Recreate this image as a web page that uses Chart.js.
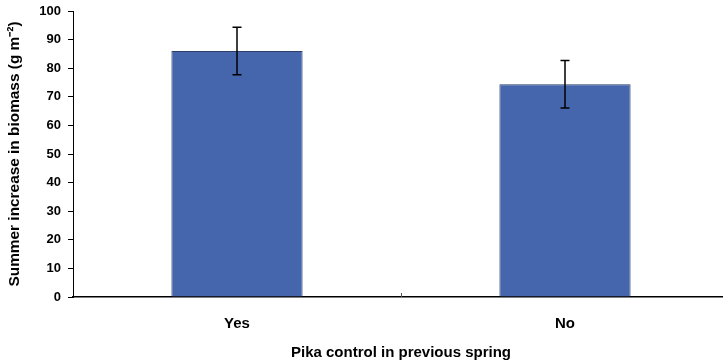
<!DOCTYPE html>
<html>
<head>
<meta charset="utf-8">
<script src="https://cdn.jsdelivr.net/npm/chart.js@4/dist/chart.umd.min.js"></script>
<style>
  html, body { margin: 0; padding: 0; background: #fff; overflow: hidden; }
  #wrap { width: 730px; height: 362px; }
</style>
</head>
<body>
<div id="wrap"><canvas id="c" width="730" height="362"></canvas></div>
<script>
// Biomass gain by prior pika control treatment
const categories = ['Yes', 'No'];
const biomassIncrease = [86.0, 74.4];
const errorHalfWidth = [8.3, 8.3];
const yTicks = [0, 10, 20, 30, 40, 50, 60, 70, 80, 90, 100];

const boldSans = "'Liberation Sans', Arial, sans-serif";

// Error bars with flat caps, plus the divider tick between categories
const errorBarPlugin = {
  id: 'errorBars',
  afterDatasetsDraw(chart) {
    const ctx = chart.ctx;
    const x = chart.scales.x, y = chart.scales.y;
    const meta = chart.getDatasetMeta(0);
    ctx.save();
    ctx.strokeStyle = '#000';
    ctx.lineWidth = 1.5;
    meta.data.forEach((bar, i) => {
      const v = biomassIncrease[i], e = errorHalfWidth[i];
      const yt = y.getPixelForValue(v + e), yb = y.getPixelForValue(v - e);
      const cx = bar.x, cap = 4.5;
      ctx.beginPath();
      ctx.moveTo(cx, yt); ctx.lineTo(cx, yb);
      ctx.moveTo(cx - cap, yt); ctx.lineTo(cx + cap, yt);
      ctx.moveTo(cx - cap, yb); ctx.lineTo(cx + cap, yb);
      ctx.stroke();
    });
    // category divider tick on the x axis
    const mid = (x.getPixelForValue(0) + x.getPixelForValue(1)) / 2;
    const base = y.getPixelForValue(0);
    ctx.strokeStyle = '#555';
    ctx.lineWidth = 1;
    ctx.beginPath();
    ctx.moveTo(Math.round(mid) + 0.5, base);
    ctx.lineTo(Math.round(mid) + 0.5, base - 4);
    ctx.stroke();
    ctx.restore();
  }
};

new Chart(document.getElementById('c'), {
  type: 'bar',
  data: {
    labels: categories,
    datasets: [{
      data: biomassIncrease,
      backgroundColor: '#4565ad',
      borderColor: '#2c3f6a',
      borderWidth: 1,
      categoryPercentage: 0.8,
      barPercentage: 0.5
    }]
  },
  options: {
    responsive: false,
    animation: false,
    devicePixelRatio: 1,
    layout: { padding: { top: 11, right: 1, left: 0, bottom: 0 } },
    plugins: { legend: { display: false }, tooltip: { enabled: false } },
    scales: {
      x: {
        grid: { display: false },
        border: { display: true, color: '#000', width: 1.5 },
        ticks: { color: '#000', padding: 10, font: { family: boldSans, size: 15, weight: 'bold' } },
        title: {
          display: true,
          text: 'Pika control in previous spring',
          color: '#000',
          padding: { top: 15, bottom: 0 },
          font: { family: boldSans, size: 15, weight: 'bold' }
        },
        afterFit(s) { s.height = 65; s.paddingLeft = 0; s.paddingRight = 0; }
      },
      y: {
        min: 0, max: 100,
        afterBuildTicks(s) { s.ticks = yTicks.map(v => ({ value: v })); },
        grid: { drawOnChartArea: false, drawTicks: true, tickLength: 5, color: '#000', lineWidth: 1 },
        border: { display: true, color: '#000', width: 1 },
        ticks: { color: '#000', padding: 7, font: { family: boldSans, size: 13, weight: 'bold' } },
        title: {
          display: true,
          text: 'Summer increase in biomass (g m\u207B\u00B2)',
          color: '#000',
          padding: { top: 6, bottom: 0 },
          font: { family: boldSans, size: 15.4, weight: 'bold' }
        },
        afterFit(s) { s.width = 73; s.paddingTop = 0; s.paddingBottom = 0; }
      }
    }
  },
  plugins: [errorBarPlugin]
});
</script>
</body>
</html>
